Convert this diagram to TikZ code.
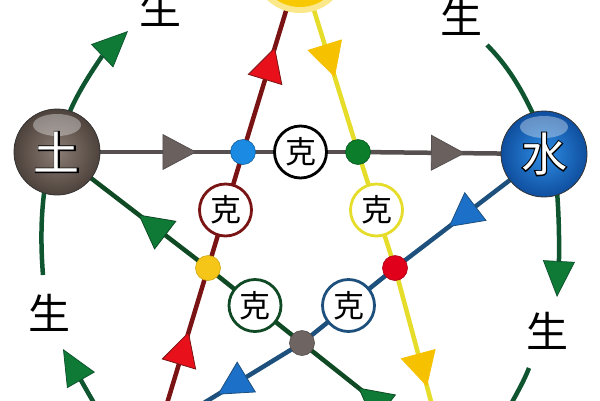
\documentclass[tikz,border=0pt]{standalone}
\usepackage{fontspec}
\newfontfamily\cjk{Noto Sans CJK SC}
\newfontfamily\cjkfat[FakeBold=5]{Noto Sans CJK SC}
\usetikzlibrary{arrows.meta,decorations.markings,calc}
\definecolor{lnGray}{HTML}{565050}
\definecolor{arGray}{HTML}{6A615E}
\definecolor{lnRed}{HTML}{7A1414}
\definecolor{arRed}{HTML}{E8101A}
\definecolor{lnYellow}{HTML}{E6DC2A}
\definecolor{arYellow}{HTML}{F6C200}
\definecolor{lnGreen}{HTML}{0F4A25}
\definecolor{arGreen}{HTML}{0E7A35}
\definecolor{lnBlue}{HTML}{1D507C}
\definecolor{arBlue}{HTML}{1C70C8}
\definecolor{shGreen}{HTML}{0F5530}
\definecolor{dBlue}{HTML}{1B8AE2}
\definecolor{dGreen}{HTML}{0B7D2B}
\definecolor{dYellow}{HTML}{F5C518}
\definecolor{dRed}{HTML}{E0001B}
\definecolor{dGray}{HTML}{6E6562}
\definecolor{earthIn}{HTML}{8A7D75}
\definecolor{earthOut}{HTML}{4E423C}
\definecolor{waterIn}{HTML}{2E8EE6}
\definecolor{waterOut}{HTML}{0F4E9E}
\definecolor{fireC}{HTML}{F8C800}
\definecolor{fireGlow}{HTML}{FBE88A}
\tikzset{
  tipat/.style n args={3}{postaction={decorate},decoration={markings,mark=at position #1 with {\arrow{Triangle[length=34pt,width=36pt,line width=0.8pt,fill=#2,color=#3]}}}},
  starln/.style={line width=4.5pt},
  kenode/.style={circle,fill=white,line width=2.8pt,minimum size=52pt,inner sep=0pt,font=\fontsize{31}{31}\selectfont\cjk},
  dotnode/.style={circle,minimum size=25pt,inner sep=0pt,line width=0.6pt},
  shengln/.style={line width=4.5pt,draw=shGreen},
  shengtip/.style={-{Triangle[length=36pt,width=32pt,line width=0.8pt,fill=arGreen,color=shGreen]}},
  shenglbl/.style={font=\fontsize{42}{42}\selectfont\cjk,inner sep=0pt},
  elem/.style={circle,minimum size=86pt,inner sep=0pt,draw=black!80,line width=0.8pt},
  elemtxt/.style={inner sep=0pt,font=\fontsize{46}{46}\selectfont\cjk,text=white},
  elemedge/.style={inner sep=0pt,font=\fontsize{46}{46}\selectfont\cjkfat,text=black},
  gloss/.style={fill=white,opacity=0.35}
}
\begin{document}
\begin{tikzpicture}[x=1pt,y=-1pt]
\path[use as bounding box] (0,0) rectangle (600,400);
\clip (0,0) rectangle (600,400);
\fill[white] (0,0) rectangle (600,400);
% key points
\coordinate (pT) at (300,-35);
\coordinate (pE) at (57,152);
\coordinate (pW) at (544,154);
\coordinate (xB) at (243,152);
\coordinate (xG) at (358,152);
\coordinate (xY) at (208,268);
\coordinate (xR) at (395,268);
\coordinate (xK) at (302,343);
\coordinate (fR) at (162,420);
\coordinate (fY) at (436,420);
\coordinate (fG) at (399,420);
\coordinate (fB) at (176,420);
% sheng arcs
\coordinate (a1s) at (67,120);
\coordinate (a1e) at (128,31);
\coordinate (a2s) at (487,45);
\coordinate (a2e) at (538,125);
\coordinate (a3s) at (556,180);
\coordinate (a3e) at (557,297);
\coordinate (a4s) at (529,368);
\coordinate (a4e) at (505,415);
\coordinate (a5s) at (46,180);
\coordinate (a5e) at (43,275);
\coordinate (a6s) at (104,420);
\coordinate (a6e) at (63,349);
\draw[shengln,shengtip] (a1s) .. controls (74,95) and (104,54) .. (a1e);
\draw[shengln] (a2s) .. controls (506,64) and (522,88) .. (a2e);
\draw[shengln,shengtip] (a3s) .. controls (560,220) and (559,260) .. (a3e);
\draw[shengln] (a4s) .. controls (524,381) and (517,393) .. (a4e);
\draw[shengln] (a5s) .. controls (40,215) and (41,250) .. (a5e);
\draw[shengln,shengtip] (a6s) .. controls (92,400) and (78,375) .. (a6e);
% gray line (earth -> water)
\draw[starln,draw=lnGray,tipat={0.75}{arGray}{lnGray}] (pE) -- (xB);
\draw[starln,draw=lnGray] (xB) -- (xG);
\draw[starln,draw=lnGray,tipat={0.575}{arGray}{lnGray}] (xG) -- (pW);
% red line (up to top)
\draw[starln,draw=lnRed,tipat={0.58}{arRed}{lnRed}] (fR) -- (xY);
\draw[starln,draw=lnRed] (xY) -- (xB);
\draw[starln,draw=lnRed,tipat={0.56}{arRed}{lnRed}] (xB) -- (pT);
% yellow line (down from top)
\draw[starln,draw=lnYellow,tipat={0.60}{arYellow}{arYellow}] (pT) -- (xG);
\draw[starln,draw=lnYellow] (xG) -- (xR);
\draw[starln,draw=lnYellow,tipat={0.78}{arYellow}{arYellow}] (xR) -- (fY);
% green line (towards earth)
\draw[starln,draw=lnGreen,tipat={0.42}{arGreen}{lnGreen}] (fG) -- (xK);
\draw[starln,draw=lnGreen] (xK) -- (xY);
\draw[starln,draw=lnGreen,tipat={0.46}{arGreen}{lnGreen}] (xY) -- (pE);
% blue line (from water)
\draw[starln,draw=lnBlue,tipat={0.64}{arBlue}{lnBlue}] (pW) -- (xR);
\draw[starln,draw=lnBlue] (xR) -- (xK);
\draw[starln,draw=lnBlue,tipat={0.67}{arBlue}{lnBlue}] (xK) -- (fB);
% ke circles
\node[kenode,draw=black] (k1) at ($(xB)!0.5!(xG)$) {克};
\node[kenode,draw=lnRed] (k2) at ($(xB)!0.5!(xY)$) {克};
\node[kenode,draw=lnYellow] (k3) at ($(xG)!0.5!(xR)$) {克};
\node[kenode,draw=lnGreen] (k4) at ($(xY)!0.5!(xK)$) {克};
\node[kenode,draw=lnBlue] (k5) at ($(xR)!0.5!(xK)$) {克};
% junction dots
\node[dotnode,fill=dBlue,draw=dBlue!70!black] (dB) at (xB) {};
\node[dotnode,fill=dGreen,draw=dGreen!70!black] (dG) at (xG) {};
\node[dotnode,fill=dYellow,draw=dYellow!85!black] (dY) at (xY) {};
\node[dotnode,fill=dRed,draw=dRed!75!black] (dR) at (xR) {};
\node[dotnode,fill=dGray,draw=dGray!75!black] (dK) at (xK) {};
% element balls
\node[circle,minimum size=96pt,inner sep=0pt,fill=fireGlow] (fireglow) at (pT) {};
\node[circle,minimum size=84pt,inner sep=0pt,fill=fireC] (fire) at (pT) {};
\node[elem,inner color=earthIn,outer color=earthOut] (earth) at (pE) {};
\fill[gloss] ($(earth.center)+(0,-27)$) ellipse (24 and 11);
\node[elemedge] (earthedge) at (pE) {土};
\node[elemtxt] (earthtxt) at (pE) {土};
\node[elem,inner color=waterIn,outer color=waterOut] (water) at (pW) {};
\fill[gloss] ($(water.center)+(0,-27)$) ellipse (24 and 11);
\node[elemedge] (wateredge) at (pW) {水};
\node[elemtxt] (watertxt) at (pW) {水};
% sheng labels
\node[shenglbl] (s1) at (160,8) {生};
\node[shenglbl] (s2) at (461,17) {生};
\node[shenglbl] (s3) at (49,313) {生};
\node[shenglbl] (s4) at (547,331) {生};
\end{tikzpicture}
\end{document}
